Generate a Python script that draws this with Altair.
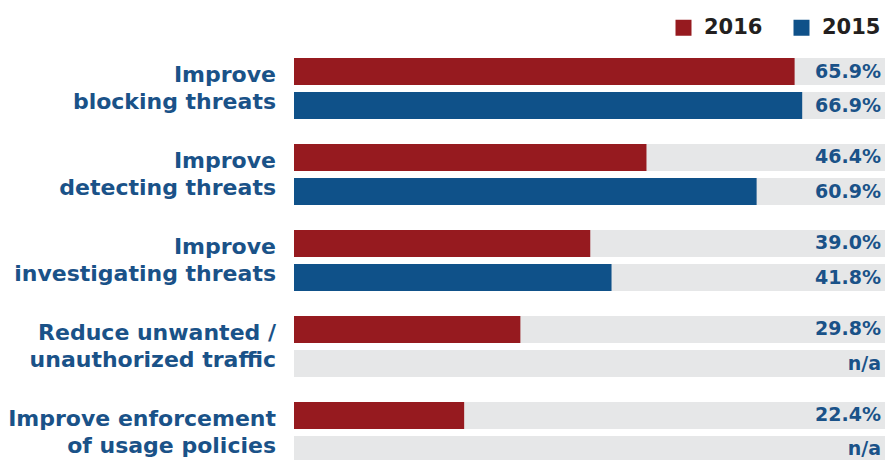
import altair as alt
import pandas as pd

categories = [
    "Improve\nblocking threats",
    "Improve\ndetecting threats",
    "Improve\ninvestigating threats",
    "Reduce unwanted /\nunauthorized traffic",
    "Improve enforcement\nof usage policies",
]
series = ["2016", "2015"]
values_2016 = [65.9, 46.4, 39.0, 29.8, 22.4]
values_2015 = [66.9, 60.9, 41.8, None, None]
colors = ["#961a1f", "#0f5189"]
x_max = 77.8

rows = []
for c, a, b in zip(categories, values_2016, values_2015):
    for s, v in (("2016", a), ("2015", b)):
        rows.append({
            "category": c,
            "series": s,
            "value": v,
            "label": "n/a" if v is None else f"{v:.1f}%",
        })
df = pd.DataFrame(rows)
cat_df = pd.DataFrame({"category": categories})

FONT = "DejaVu Sans"
TEXT_BLUE = "#1a5288"
W = 591

y_enc = alt.Y("category:N", sort=categories, axis=None,
              scale=alt.Scale(range=[50, 455], paddingInner=0.29, paddingOuter=0))
yoff_enc = alt.YOffset("series:N", sort=series,
                       scale=alt.Scale(domain=series, paddingInner=0.206, paddingOuter=0))

base = alt.Chart(df)

track = base.mark_bar(color="#e6e7e8").encode(
    x=alt.value(0), x2=alt.value(W), y=y_enc, yOffset=yoff_enc
)

bars = base.mark_bar().encode(
    x=alt.X("value:Q", scale=alt.Scale(domain=[0, x_max], nice=False, zero=True), axis=None),
    y=y_enc,
    yOffset=yoff_enc,
    color=alt.Color(
        "series:N",
        scale=alt.Scale(domain=series, range=colors),
        legend=alt.Legend(
            title=None, orient="none", direction="horizontal",
            legendX=379, legendY=9, padding=0,
            symbolType="square", symbolSize=256, symbolStrokeWidth=0,
            symbolOpacity=1,
            labelFont=FONT, labelFontSize=21, labelFontWeight="bold",
            labelColor="#231f20", labelOffset=10, columnPadding=28,
        ),
    ),
)

vals = base.mark_text(align="right", baseline="middle", font=FONT, fontSize=19,
                      fontWeight="bold", color=TEXT_BLUE).encode(
    x=alt.value(587), y=y_enc, yOffset=yoff_enc, text="label:N"
)

cat_labels = alt.Chart(cat_df).mark_text(
    align="right", baseline="middle", font=FONT, fontSize=22, fontWeight="bold",
    color=TEXT_BLUE, lineBreak="\n", lineHeight=27, dy=-13.5
).encode(x=alt.value(-18), y=y_enc, text="category:N")

chart = alt.layer(track, bars, vals, cat_labels).properties(
    width=W, height=452,
    autosize=alt.AutoSizeParams(type="none"),
    padding={"left": 286, "top": 0, "right": 0, "bottom": 0},
).configure_view(stroke=None)

chart.save("out.html", embed_options={"renderer": "svg", "actions": False})
